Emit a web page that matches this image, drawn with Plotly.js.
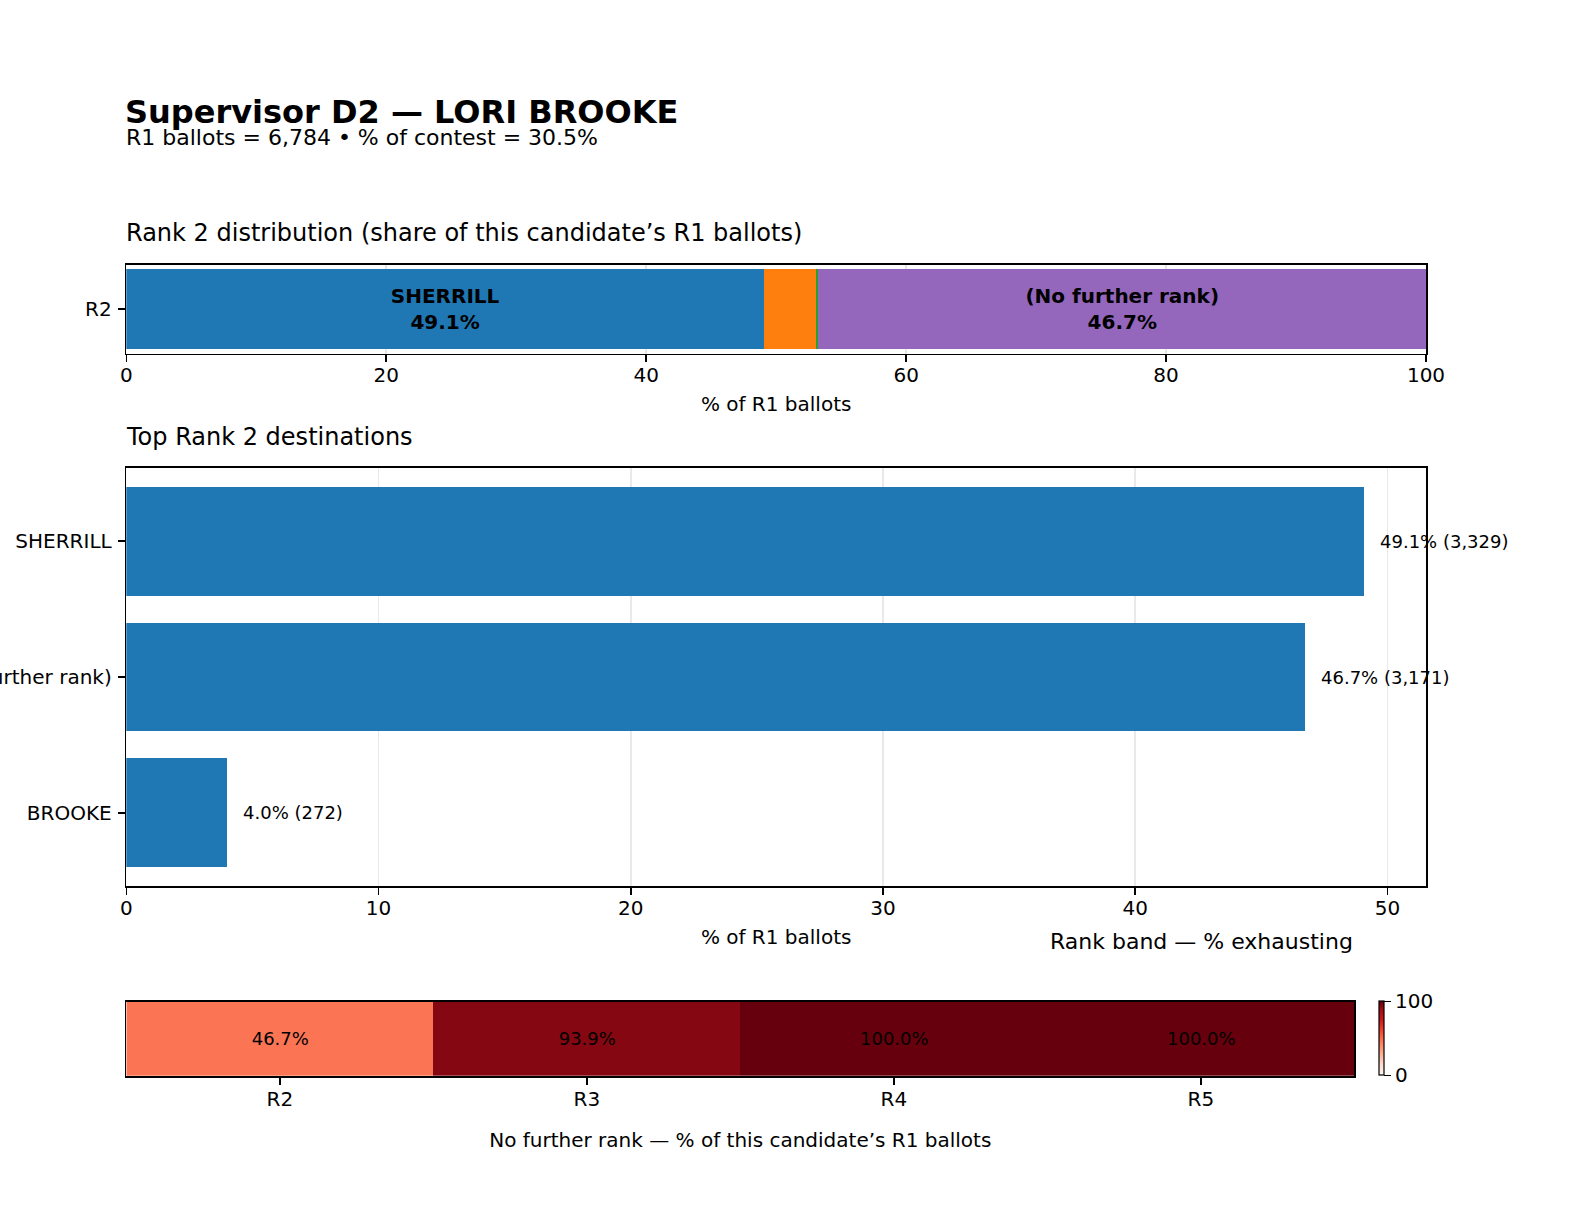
<!DOCTYPE html>
<html>
<head>
<meta charset="utf-8">
<script src="https://cdn.plot.ly/plotly-3.0.1.min.js"></script>
<style>html,body{margin:0;padding:0;background:#fff;}#chart{width:1584px;height:1224px;}</style>
</head>
<body>
<div id="chart"></div>
<script>
// ---- data ----
const contestName = "Supervisor D2";
const candidateName = "LORI BROOKE";
const r1Ballots = 6784;
const pctOfContest = 30.5;

// Rank 2 stacked distribution (counts of this candidate's R1 ballots)
const stackNames  = ["SHERRILL", "BROOKE", "Other", "(No further rank)"];
const stackCounts = [3329, 272, 12, 3171];
const stackColors = ["#1f77b4", "#ff7f0e", "#2ca02c", "#9467bd"];
const stackLabelMin = 8; // only label segments with at least this share (%)

// Top Rank 2 destinations
const destNames  = ["SHERRILL", "(No further rank)", "BROOKE"];
const destCounts = [3329, 3171, 272];

// Exhaustion by rank band
const bandLabels = ["R2", "R3", "R4", "R5"];
const bandExhaustPct = [46.7, 93.9, 100.0, 100.0];

// ---- helpers ----
const FONT = "DejaVu Sans, Verdana, sans-serif";
const fmtInt = n => n.toLocaleString("en-US");
const pct = c => c / r1Ballots * 100;

const redsScale = [
  [0.0, "#fff5f0"], [0.125, "#fee0d2"], [0.25, "#fcbba1"], [0.375, "#fc9272"],
  [0.5, "#fb6a4a"], [0.625, "#ef3b2c"], [0.75, "#cb181d"], [0.875, "#a50f15"], [1.0, "#67000d"]
];

const traces = [];
// stacked bar traces
stackNames.forEach((name, i) => {
  const p = pct(stackCounts[i]);
  traces.push({
    type: "bar", orientation: "h",
    x: [p], y: ["R2"], width: [0.9],
    name: name,
    marker: {color: stackColors[i], line: {width: 0}},
    text: [p >= stackLabelMin ? "<b>" + name + "</b><br><b>" + p.toFixed(1) + "%</b>" : ""],
    textposition: "inside", insidetextanchor: "middle", textangle: 0,
    textfont: {family: FONT, size: 20, color: "#000000"},
    constraintext: "none",
    hoverinfo: "skip",
    xaxis: "x", yaxis: "y", showlegend: false
  });
});

// destinations bar
const destPct = destCounts.map(pct);
traces.push({
  type: "bar", orientation: "h",
  x: destPct, y: destNames, width: 0.8,
  marker: {color: "#1f77b4", line: {width: 0}},
  hoverinfo: "skip",
  xaxis: "x2", yaxis: "y2", showlegend: false
});

// exhaustion heatmap
traces.push({
  type: "heatmap",
  z: [bandExhaustPct], x: bandLabels, y: [0],
  zmin: 0, zmax: 100,
  colorscale: redsScale,
  texttemplate: "%{z:.1f}%",
  textfont: {family: FONT, size: 18, color: "#000000"},
  xgap: 0, ygap: 0,
  hoverinfo: "skip",
  xaxis: "x3", yaxis: "y3",
  colorbar: {
    x: 1379/1584, xanchor: "left", xpad: 0,
    y: 1 - 1038.4/1224, yanchor: "middle", ypad: 0,
    thickness: 5, thicknessmode: "pixels",
    len: 74, lenmode: "pixels",
    outlinewidth: 1.2, outlinecolor: "#000000",
    tickvals: [0, 100], ticktext: ["0", "100"],
    ticks: "outside", ticklen: 7, tickwidth: 1.6, tickcolor: "#000000",
    tickfont: {family: FONT, size: 20, color: "#000000"}
  }
});

const X0 = 126.3/1584, X1 = 1426/1584, XH1 = 1354.3/1584;
const XT = 124.5/1584;
const yTop = [1 - 353.5/1224, 1 - 264.7/1224];
const yMid = [1 - 886/1224, 1 - 468/1224];
const yHeat = [1 - 1076/1224, 1 - 1001.7/1224];

const axisCommon = {
  showline: true, linecolor: "#000000", linewidth: 1.6, mirror: true,
  ticks: "outside", ticklen: 7, tickwidth: 1.6, tickcolor: "#000000",
  tickfont: {family: FONT, size: 20, color: "#000000"},
  zeroline: false, automargin: false, fixedrange: true
};

const annotations = [];
const ann = (o) => annotations.push(Object.assign({
  showarrow: false, borderpad: 0, xref: "paper", yref: "paper",
  font: {family: FONT, size: 20, color: "#000000"}
}, o));

ann({text: "<b>" + contestName + " — " + candidateName + "</b>", x: 124/1584, xanchor: "left",
     y: 1 - 112/1224, yanchor: "middle", font: {family: FONT, size: 32, color: "#000000"}});
ann({text: "R1 ballots = " + fmtInt(r1Ballots) + " • % of contest = " + pctOfContest.toFixed(1) + "%",
     x: XT, xanchor: "left", y: 1 - 137/1224, yanchor: "middle",
     font: {family: FONT, size: 22, color: "#000000"}});
ann({text: "Rank 2 distribution (share of this candidate’s R1 ballots)", x: XT, xanchor: "left",
     y: 1 - 233/1224, yanchor: "middle", font: {family: FONT, size: 24, color: "#000000"}});
ann({text: "Top Rank 2 destinations", x: XT, xanchor: "left",
     y: 1 - 437/1224, yanchor: "middle", font: {family: FONT, size: 24, color: "#000000"}});
ann({text: "Rank band — % exhausting", x: XH1, xanchor: "right",
     y: 1 - 941/1224, yanchor: "middle", font: {family: FONT, size: 22, color: "#000000"}});

// value labels for destinations
destNames.forEach((n, i) => {
  ann({text: destPct[i].toFixed(1) + "% (" + fmtInt(destCounts[i]) + ")",
       xref: "x2", yref: "y2", x: destPct[i], y: n, xanchor: "left", yanchor: "middle",
       xshift: 15, font: {family: FONT, size: 18, color: "#000000"}});
});

const maxDest = Math.max(...destPct);

const layout = {
  width: 1584, height: 1224,
  margin: {l: 0, r: 0, t: 0, b: 0},
  paper_bgcolor: "#ffffff", plot_bgcolor: "#ffffff",
  barmode: "stack",
  showlegend: false,
  font: {family: FONT, size: 20, color: "#000000"},
  xaxis: Object.assign({}, axisCommon, {
    domain: [X0, X1], anchor: "y", range: [0, 100],
    tickvals: [0, 20, 40, 60, 80, 100],
    ticklabelstandoff: -4,
    showgrid: true, gridcolor: "rgba(176,176,176,0.3)", gridwidth: 1.6, layer: "above traces",
    title: {text: "% of R1 ballots", font: {family: FONT, size: 20, color: "#000000"}, standoff: 11}
  }),
  yaxis: Object.assign({}, axisCommon, {
    domain: yTop, anchor: "x", range: [-0.495, 0.495], type: "category",
    showgrid: false, ticklabelstandoff: 2
  }),
  xaxis2: Object.assign({}, axisCommon, {
    domain: [X0, X1], anchor: "y2", range: [0, maxDest * 1.05],
    tickvals: [0, 10, 20, 30, 40, 50],
    ticklabelstandoff: -4,
    showgrid: true, gridcolor: "rgba(176,176,176,0.28)", gridwidth: 1.6, layer: "above traces",
    title: {text: "% of R1 ballots", font: {family: FONT, size: 20, color: "#000000"}, standoff: 11}
  }),
  yaxis2: Object.assign({}, axisCommon, {
    domain: yMid, anchor: "x2", type: "category",
    categoryorder: "array", categoryarray: destNames,
    range: [2.54, -0.54],
    showgrid: false, ticklabelstandoff: 2
  }),
  xaxis3: Object.assign({}, axisCommon, {
    domain: [X0, XH1], anchor: "y3", type: "category", range: [-0.5, 3.5],
    ticklabelstandoff: -3,
    showgrid: false,
    title: {text: "No further rank — % of this candidate’s R1 ballots", font: {family: FONT, size: 20, color: "#000000"}, standoff: 23}
  }),
  yaxis3: Object.assign({}, axisCommon, {
    domain: yHeat, anchor: "x3", range: [-0.5, 0.5],
    ticks: "", showticklabels: false, showgrid: false
  }),
  annotations: annotations
};

Plotly.newPlot("chart", traces, layout, {staticPlot: true, displayModeBar: false});
</script>
</body>
</html>
